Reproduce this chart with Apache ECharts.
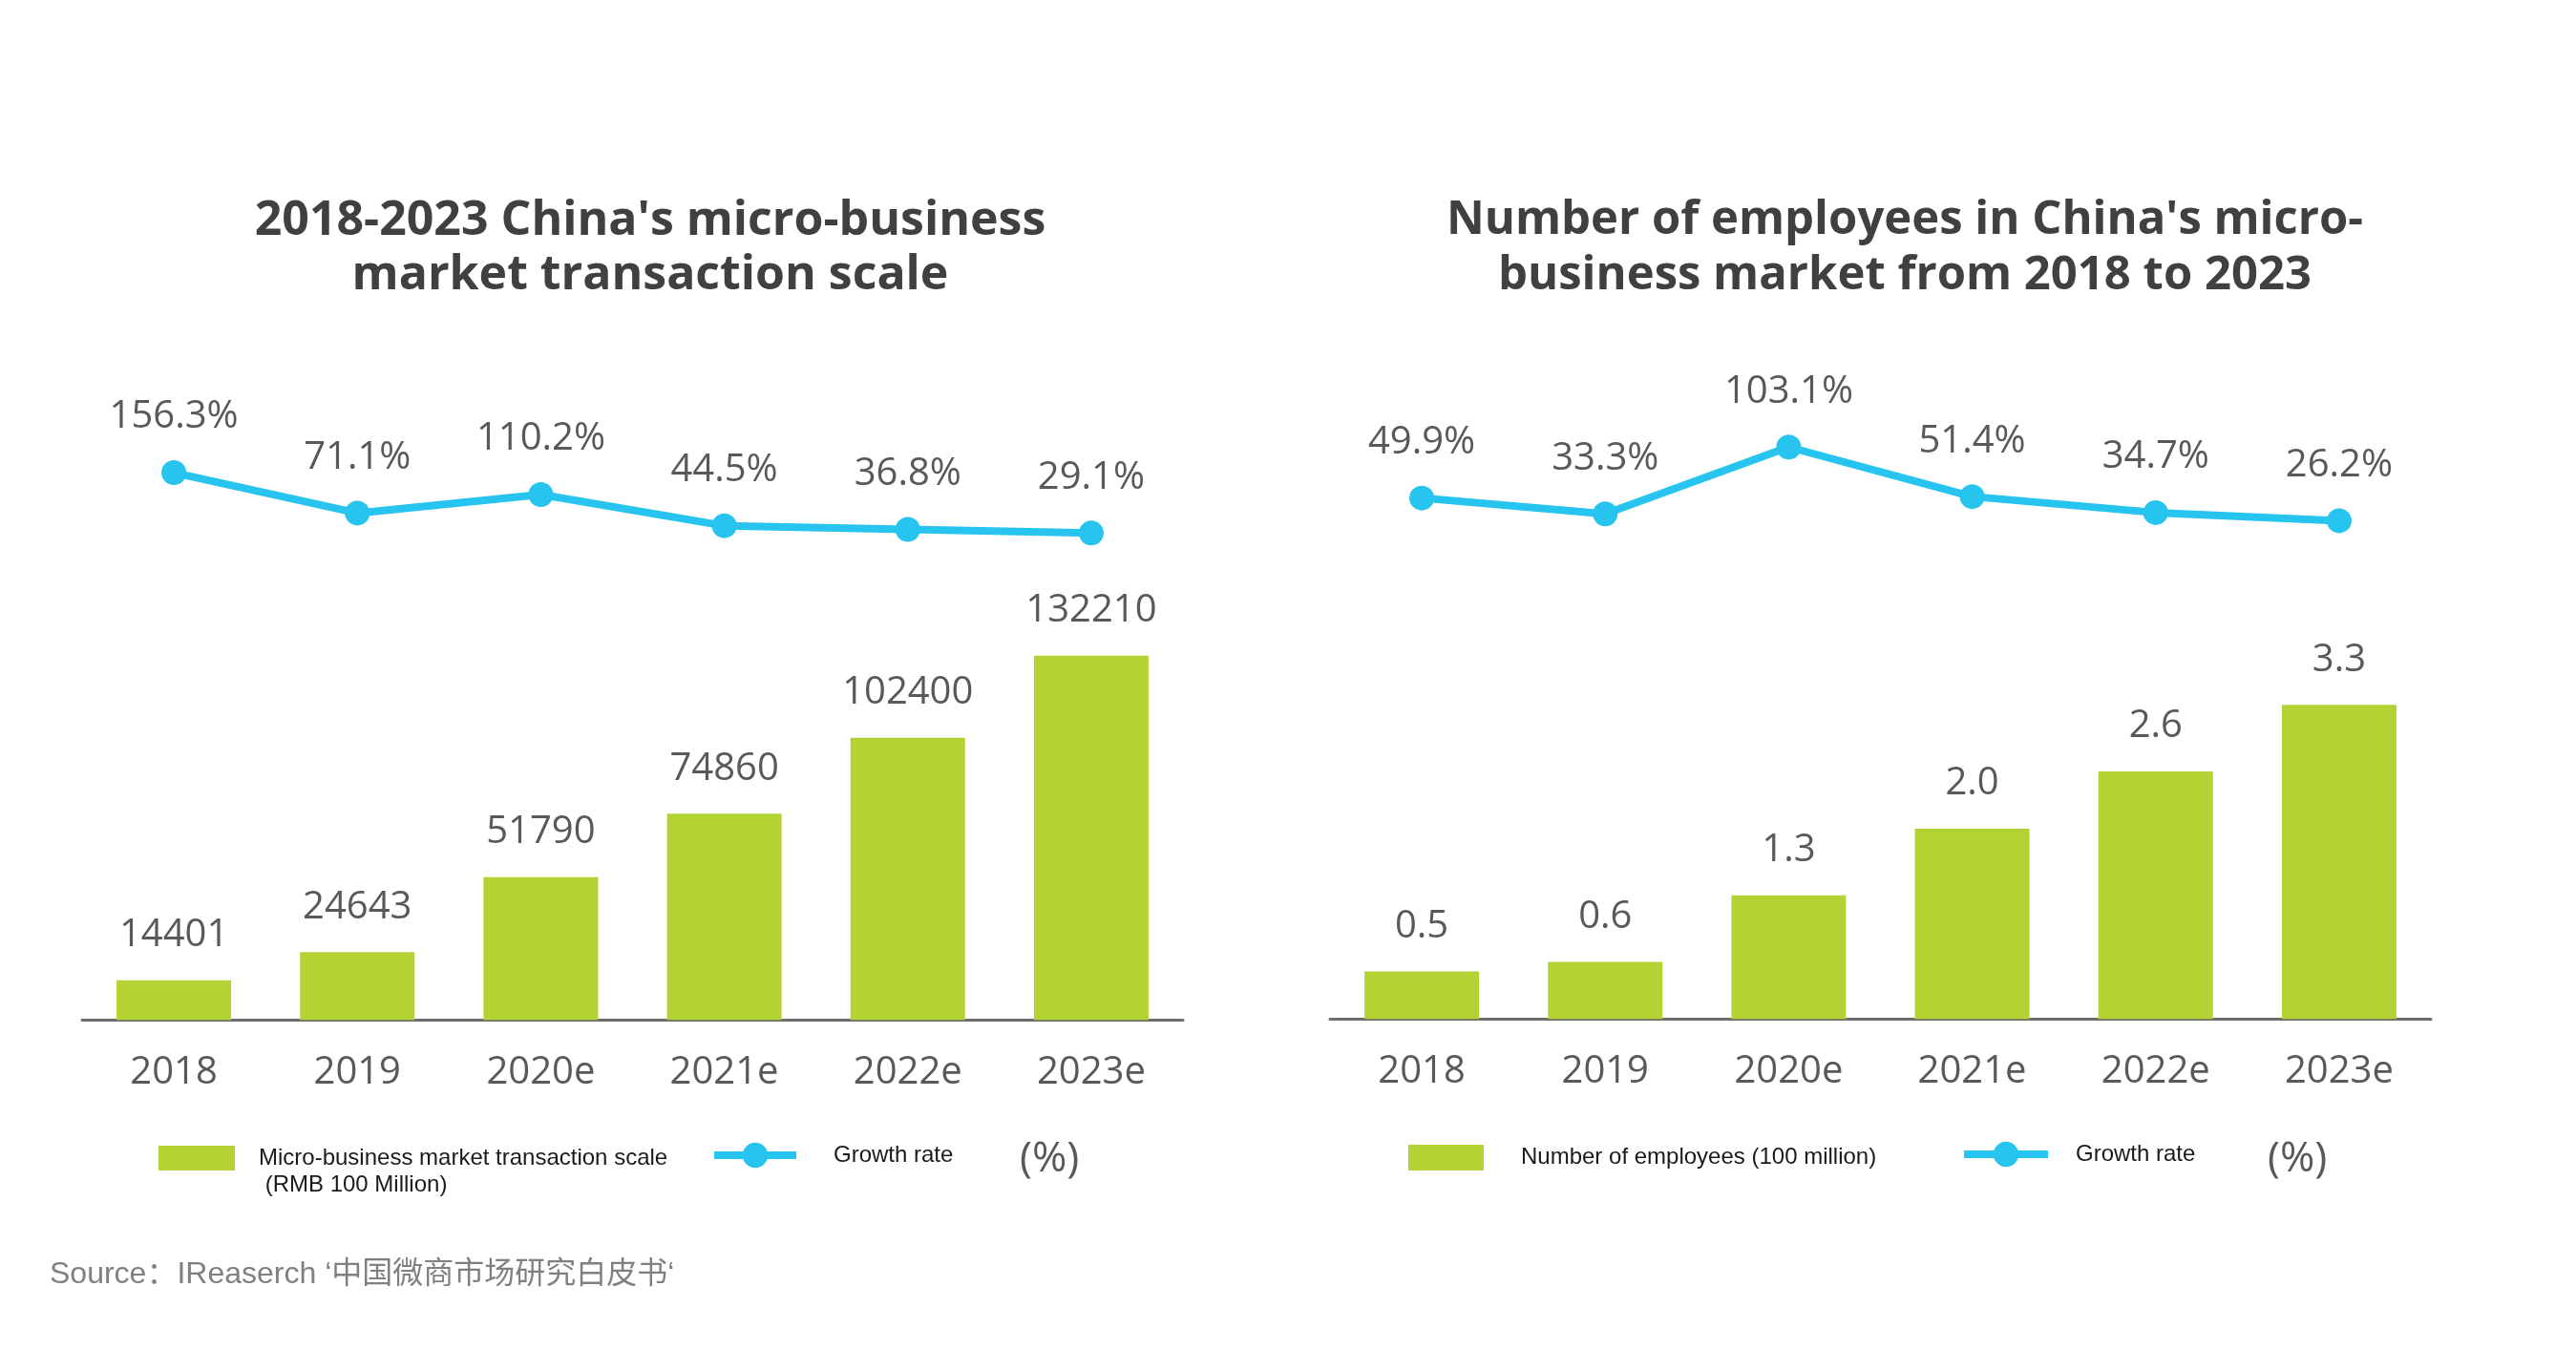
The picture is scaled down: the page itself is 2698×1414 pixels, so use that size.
<!DOCTYPE html>
<html>
<head>
<meta charset="utf-8">
<script src="https://cdn.jsdelivr.net/npm/echarts@6/dist/echarts.min.js"></script>
<style>html,body{margin:0;padding:0;background:#fff;}#main{width:2698px;height:1414px;}</style>
</head>
<body>
<div id="main"></div>
<script>
const years = ['2018', '2019', '2020e', '2021e', '2022e', '2023e'];
const scaleValues = [14401, 24643, 51790, 74860, 102400, 132210];
const scaleGrowth = [156.3, 71.1, 110.2, 44.5, 36.8, 29.1];
const employeeValues = [0.5, 0.6, 1.3, 2.0, 2.6, 3.3];
const employeeGrowth = [49.9, 33.3, 103.1, 51.4, 34.7, 26.2];

const leftTitle = "2018-2023 China's micro-business\nmarket transaction scale";
const rightTitle = "Number of employees in China's micro-\nbusiness market from 2018 to 2023";
const barNameLeft = 'Micro-business market transaction scale\n (RMB 100 Million)';
const barNameRight = 'Number of employees (100 million)';
const lineName = 'Growth rate';
const sourceText = 'Source：IReaserch ‘中国微商市场研究白皮书‘';

const GREEN = '#B3D335';
const CYAN = '#27C4EF';
const LABEL = '#595959';
const NUMFONT = "'Open Sans', sans-serif";
const LEGFONT = "'Liberation Sans', Arial, sans-serif";

const chart = echarts.init(document.getElementById('main'));

function barXAxis(grid) {
  return {
    type: 'category', gridIndex: grid, data: years,
    axisLine: { show: true, lineStyle: { color: '#6d6d6d', width: 3 } },
    axisTick: { show: false },
    axisLabel: { fontSize: 40, color: LABEL, fontFamily: NUMFONT, margin: 35 },
    splitLine: { show: false }
  };
}
function lineXAxis(grid) {
  return { type: 'category', gridIndex: grid, data: years, show: false, boundaryGap: true };
}
function hiddenY(grid, max) {
  return { type: 'value', gridIndex: grid, min: 0, max: max, show: false, splitLine: { show: false } };
}
function lineSeries(xi, data) {
  return {
    name: lineName, type: 'line', xAxisIndex: xi, yAxisIndex: xi, data: data,
    symbol: 'circle', symbolSize: 26,
    lineStyle: { color: CYAN, width: 8 },
    itemStyle: { color: CYAN },
    label: { show: true, position: 'top', distance: 25, fontSize: 40, color: LABEL, fontFamily: NUMFONT,
             formatter: p => p.value.toFixed(1) + '%' }
  };
}
const legendText = { fontSize: 24, color: '#1a1a1a', fontFamily: LEGFONT, lineHeight: 28 };

const option = {
  backgroundColor: '#ffffff',
  animation: false,
  title: [
    { text: leftTitle, left: 681, top: 203, textAlign: 'center', padding: 0,
      textStyle: { fontSize: 50, fontWeight: 'bold', color: '#404040', fontFamily: NUMFONT, lineHeight: 57 } },
    { text: rightTitle, left: 1995, top: 202, textAlign: 'center', padding: 0,
      textStyle: { fontSize: 49, fontWeight: 'bold', color: '#404040', fontFamily: NUMFONT, lineHeight: 58 } }
  ],
  grid: [
    { left: 86, width: 1153, top: 664.2, height: 404.1 },
    { left: 86, width: 1153, top: 473.3, height: 99.5 },
    { left: 1393, width: 1153, top: 668.5, height: 398.8 },
    { left: 1393, width: 1153, top: 451.3, height: 120.4 }
  ],
  xAxis: [barXAxis(0), lineXAxis(1), barXAxis(2), lineXAxis(3)],
  yAxis: [hiddenY(0, 140000), hiddenY(1, 200), hiddenY(2, 4), hiddenY(3, 120)],
  legend: [
    { data: [barNameLeft], left: 166, top: 1171, padding: 0, itemWidth: 80, itemHeight: 26, icon: 'rect',
      formatter: name => '\n' + name,
      textStyle: Object.assign({ padding: [0, 0, 0, 20] }, legendText) },
    { data: [lineName], left: 744, top: 1196, padding: 0, itemWidth: 86, itemHeight: 33,
      lineStyle: { width: 8 },
      textStyle: Object.assign({ padding: [0, 0, 0, 34] }, legendText) },
    { data: [barNameRight], left: 1475, top: 1198.5, padding: 0, itemWidth: 79, itemHeight: 27, icon: 'rect',
      textStyle: Object.assign({ padding: [0, 0, 0, 34] }, legendText) },
    { data: [lineName], left: 2053, top: 1195, padding: 0, itemWidth: 88, itemHeight: 33,
      lineStyle: { width: 8 },
      textStyle: Object.assign({ padding: [0, 0, 0, 24] }, legendText) }
  ],
  graphic: [
    { type: 'text', left: 1102 - 34, top: 1215 - 23, style: { text: '(%)', fontSize: 44, fill: LABEL, fontFamily: NUMFONT } },
    { type: 'text', left: 2409 - 34, top: 1215 - 23, style: { text: '(%)', fontSize: 44, fill: LABEL, fontFamily: NUMFONT } },
    { type: 'text', left: 52, top: 1333 - 14, style: { text: sourceText, fontSize: 32, fill: '#808080', fontFamily: "'Liberation Sans', Arial, 'Noto Sans CJK SC', sans-serif" } }
  ],
  series: [
    { name: barNameLeft, type: 'bar', xAxisIndex: 0, yAxisIndex: 0, data: scaleValues, barWidth: 120,
      itemStyle: { color: GREEN },
      label: { show: true, position: 'top', distance: 27, fontSize: 40, color: LABEL, fontFamily: NUMFONT } },
    lineSeries(1, scaleGrowth),
    { name: barNameRight, type: 'bar', xAxisIndex: 2, yAxisIndex: 2, data: employeeValues, barWidth: 120,
      itemStyle: { color: GREEN },
      label: { show: true, position: 'top', distance: 27, fontSize: 40, color: LABEL, fontFamily: NUMFONT,
               formatter: p => p.value.toFixed(1) } },
    lineSeries(3, employeeGrowth)
  ]
};
chart.setOption(option);
</script>
</body>
</html>
